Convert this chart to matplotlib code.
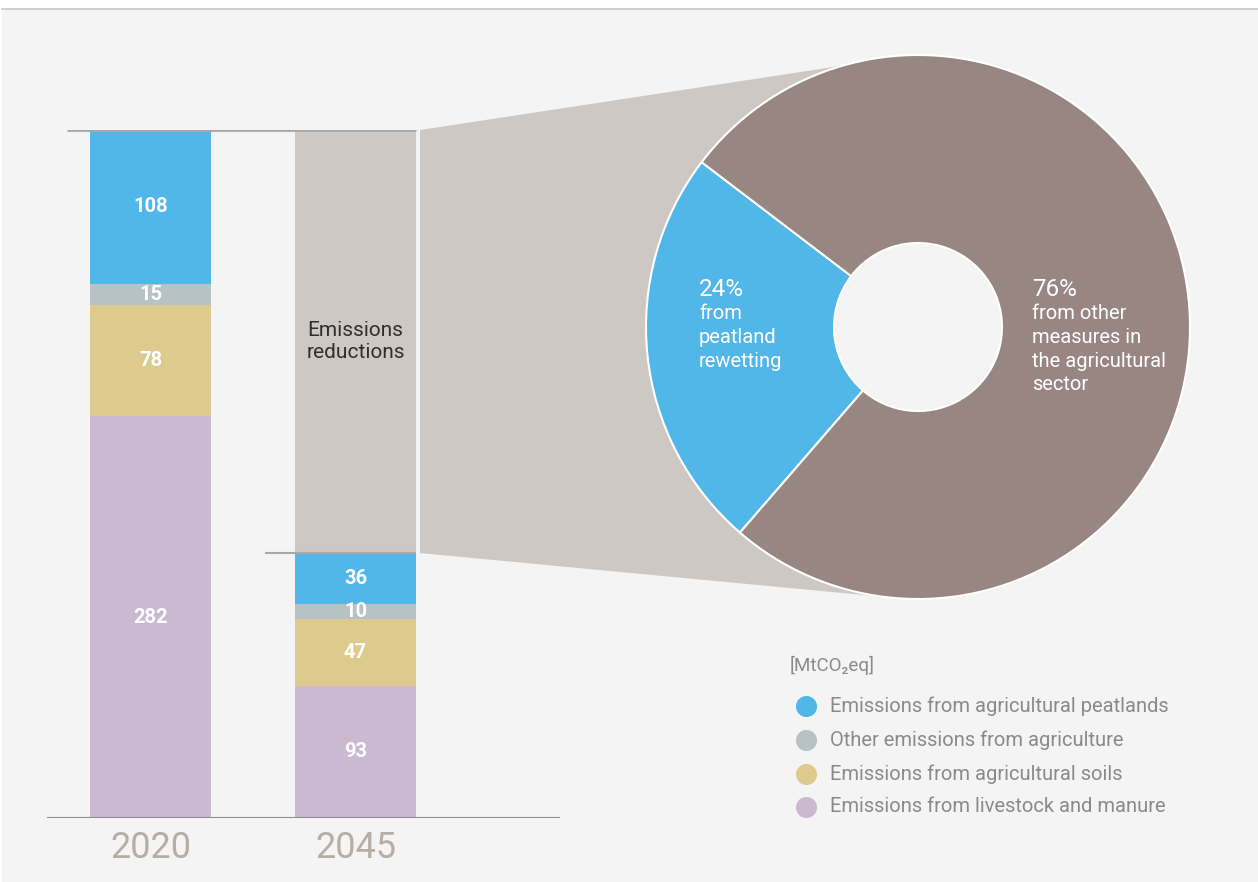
import matplotlib
matplotlib.use("Agg")
import matplotlib.pyplot as plt
import numpy as np
from matplotlib.patches import Polygon, Rectangle

plt.rcParams['font.family'] = ['Roboto', 'DejaVu Sans']

# data (MtCO2eq)
years = ['2020', '2045']
categories = ['Emissions from livestock and manure',
              'Emissions from agricultural soils',
              'Other emissions from agriculture',
              'Emissions from agricultural peatlands']
values_2020 = [282, 78, 15, 108]
values_2045 = [93, 47, 10, 36]
colors = ['#cbb8d1', '#dccb8d', '#b6c2c4', '#51b6e8']
reduction_label = 'Emissions\nreductions'
share_labels = ['24%', '76%']
share_values = [24, 76]
share_texts = ['from\npeatland\nrewetting', 'from other\nmeasures in\nthe agricultural\nsector']
share_colors = ['#51b6e8', '#978681']

W, H = 1258, 882
BG = '#f4f4f4'
fig = plt.figure(figsize=(W / 100, H / 100), dpi=100, facecolor=BG)

# overlay in pixel coordinates
ov = fig.add_axes([0, 0, 1, 1], zorder=0)
ov.set_xlim(0, W)
ov.set_ylim(H, 0)
ov.axis('off')
ov.add_patch(Rectangle((0, 0), W, 8, color='white', lw=0))
ov.add_patch(Rectangle((0, 0), 2, H, color='white', lw=0))
ov.plot([2, W], [8.5, 8.5], color='#c8c8c8', lw=1.2)

# bar axes geometry (pixels)
base_px, top_px = 818, 130
total = sum(values_2020)
scale = (base_px - top_px) / total

ax = fig.add_axes([47 / W, (H - base_px) / H, (560 - 47) / W, (base_px - top_px) / H],
                  zorder=1)
ax.set_facecolor('none')
ax.set_xlim(-0.505, 1.998)
ax.set_ylim(0, total)
w = 0.59
for xi, vals in enumerate([values_2020, values_2045]):
    bottom = 0
    for v, c in zip(vals, colors):
        ax.bar(xi, v, w, bottom=bottom, color=c, lw=0)
        ax.text(xi, bottom + v / 2, str(v), ha='center', va='center',
                color='white', fontsize=14.5, fontweight='bold')
        bottom += v
red = total - sum(values_2045)
ax.bar(1, red, w, bottom=sum(values_2045), color='#cdc8c4', lw=0)
ax.text(1, sum(values_2045) + red / 2, reduction_label, ha='center', va='center',
        color='#2f2f2f', fontsize=15, linespacing=1.15)
ax.hlines(total, -w / 2 - 0.11, 1 + w / 2, color='#a8a8a8', lw=2)
ax.hlines(sum(values_2045), 1 - w / 2 - 0.146, 1 + w / 2, color='#a8a8a8', lw=1.5)
ax.axhline(0, color='#8c8c8c', lw=1.5)
for s in ax.spines.values():
    s.set_visible(False)
ax.set_yticks([])
ax.set_xticks([0, 1], years, fontsize=26, color='#b5aea5')
ax.tick_params(axis='x', length=0, pad=9)

# zoom connector between reduction bar and donut
cx, cy, R = 918, 327, 272
r_in = 84
top_y = base_px - total * scale
bot_y = base_px - sum(values_2045) * scale
ang = np.radians(np.linspace(106, 266, 60))
arc = np.column_stack([cx + R * np.cos(ang), cy - R * np.sin(ang)])
pts = np.vstack([[[420, top_y]], arc, [[420, bot_y]]])
ov.add_patch(Polygon(pts, closed=True, color='#cdc8c4', lw=0))

# donut
dax = fig.add_axes([(cx - R) / W, (H - cy - R) / H, 2 * R / W, 2 * R / H], zorder=2)
dax.pie(share_values, colors=share_colors, startangle=142.7, counterclock=True,
        radius=1, wedgeprops=dict(width=1 - r_in / R, edgecolor='white', linewidth=1.5))
dax.set_xlim(-1, 1)
dax.set_ylim(-1, 1)
dax.axis('off')

tx = fig.add_axes([0, 0, 1, 1], zorder=3)
tx.set_xlim(0, W)
tx.set_ylim(H, 0)
tx.axis('off')
tx.patch.set_alpha(0)
for x0, lab, txt in zip([699, 1032], share_labels, share_texts):
    tx.text(x0, 289, lab, ha='left', va='center', color='white', fontsize=17.5)
    tx.text(x0, 304, txt, ha='left', va='top', color='white', fontsize=14.5,
            linespacing=1.32)

# legend
tx.text(790, 665, '[MtCO₂eq]', ha='left', va='center', color='#8a8a8a', fontsize=13.5)
leg_y = [706, 740, 774, 807]
for yy, cat, c in zip(leg_y, categories[::-1], colors[::-1]):
    tx.scatter([806], [yy], s=230, color=c, lw=0)
    tx.text(830, yy, cat, ha='left', va='center', color='#8a8a8a', fontsize=14.5)

fig.savefig('out.png', dpi=100, facecolor=BG)
